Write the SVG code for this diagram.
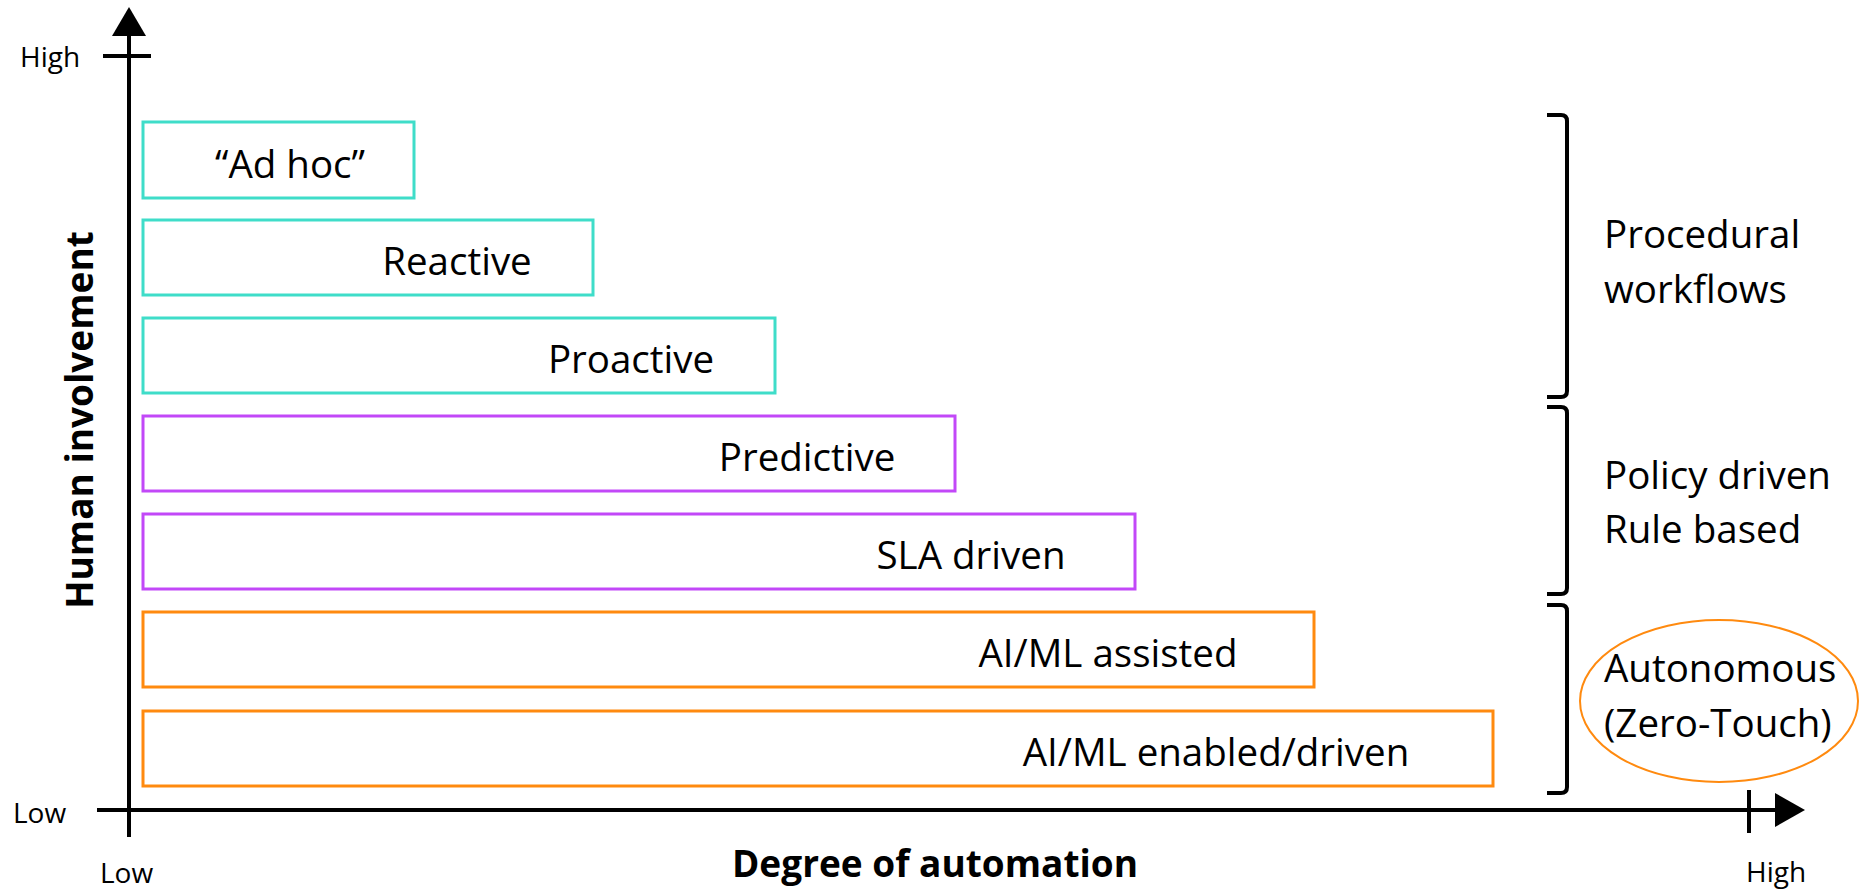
<svg xmlns="http://www.w3.org/2000/svg" width="1860" height="889" viewBox="0 0 1860 889">
<style>
.t{font-family:"Open Sans","Noto Sans",sans-serif;fill:#000}
.lbl{font-size:38.5px;text-anchor:middle}
.side{font-size:38.5px}
.tick{font-size:28px}
.title{font-size:37px;font-weight:bold;text-anchor:middle}
.teal{fill:none;stroke:#3FDDC9;stroke-width:3}
.purple{fill:none;stroke:#C248F8;stroke-width:3}
.orange{fill:none;stroke:#FF8A0F;stroke-width:3}
.axis{stroke:#000;stroke-width:4;fill:none}
.brk{stroke:#000;stroke-width:4;fill:none}
</style>
<rect width="1860" height="889" fill="#fff"/>
<g id="axes">
<line class="axis" x1="129" y1="837" x2="129" y2="34"/>
<polygon points="129,7 112,36 146,36" fill="#000"/>
<line class="axis" x1="103" y1="56" x2="151" y2="56"/>
<line class="axis" x1="97" y1="810" x2="1777" y2="810"/>
<polygon points="1805,810 1775,793 1775,827" fill="#000"/>
<line class="axis" x1="1749" y1="790" x2="1749" y2="833"/>
<text class="t tick" x="20" y="67">High</text>
<text class="t tick" x="13" y="823">Low</text>
<text class="t tick" x="100" y="883">Low</text>
<text class="t tick" x="1746" y="882">High</text>
<text class="t title" transform="translate(93,420) rotate(-90)">Human involvement</text>
<text class="t title" x="935" y="877">Degree of automation</text>
</g>
<g id="adhoc"><rect class="teal" x="143" y="122" width="271" height="76"/><text class="t lbl" x="290" y="178">“Ad hoc”</text></g>
<g id="reactive"><rect class="teal" x="143" y="220" width="450" height="75"/><text class="t lbl" x="457" y="275">Reactive</text></g>
<g id="proactive"><rect class="teal" x="143" y="318" width="632" height="75"/><text class="t lbl" x="631" y="373">Proactive</text></g>
<g id="predictive"><rect class="purple" x="143" y="416" width="812" height="75"/><text class="t lbl" x="807" y="471">Predictive</text></g>
<g id="sla"><rect class="purple" x="143" y="514" width="992" height="75"/><text class="t lbl" x="971" y="569">SLA driven</text></g>
<g id="aiml-assisted"><rect class="orange" x="143" y="612" width="1171" height="75"/><text class="t lbl" x="1108" y="667">AI/ML assisted</text></g>
<g id="aiml-enabled"><rect class="orange" x="143" y="711" width="1350" height="75"/><text class="t lbl" x="1216" y="766">AI/ML enabled/driven</text></g>
<g id="connectors">
<path class="brk" d="M1547,115 L1561,115 Q1567,115 1567,121 L1567,391 Q1567,397 1561,397 L1547,397"/>
<path class="brk" d="M1547,407 L1561,407 Q1567,407 1567,413 L1567,588 Q1567,594 1561,594 L1547,594"/>
<path class="brk" d="M1547,605 L1561,605 Q1567,605 1567,611 L1567,787 Q1567,793 1561,793 L1547,793"/>
</g>
<g id="procedural"><text class="t side" x="1604" y="248">Procedural</text><text class="t side" x="1604" y="303">workflows</text></g>
<g id="policy"><text class="t side" x="1604" y="489">Policy driven</text><text class="t side" x="1604" y="543">Rule based</text></g>
<g id="autonomous"><ellipse cx="1719" cy="701" rx="139" ry="81" fill="none" stroke="#FF8A0F" stroke-width="2"/><text class="t side" x="1604" y="682">Autonomous</text><text class="t side" x="1604" y="737">(Zero-Touch)</text></g>
</svg>
